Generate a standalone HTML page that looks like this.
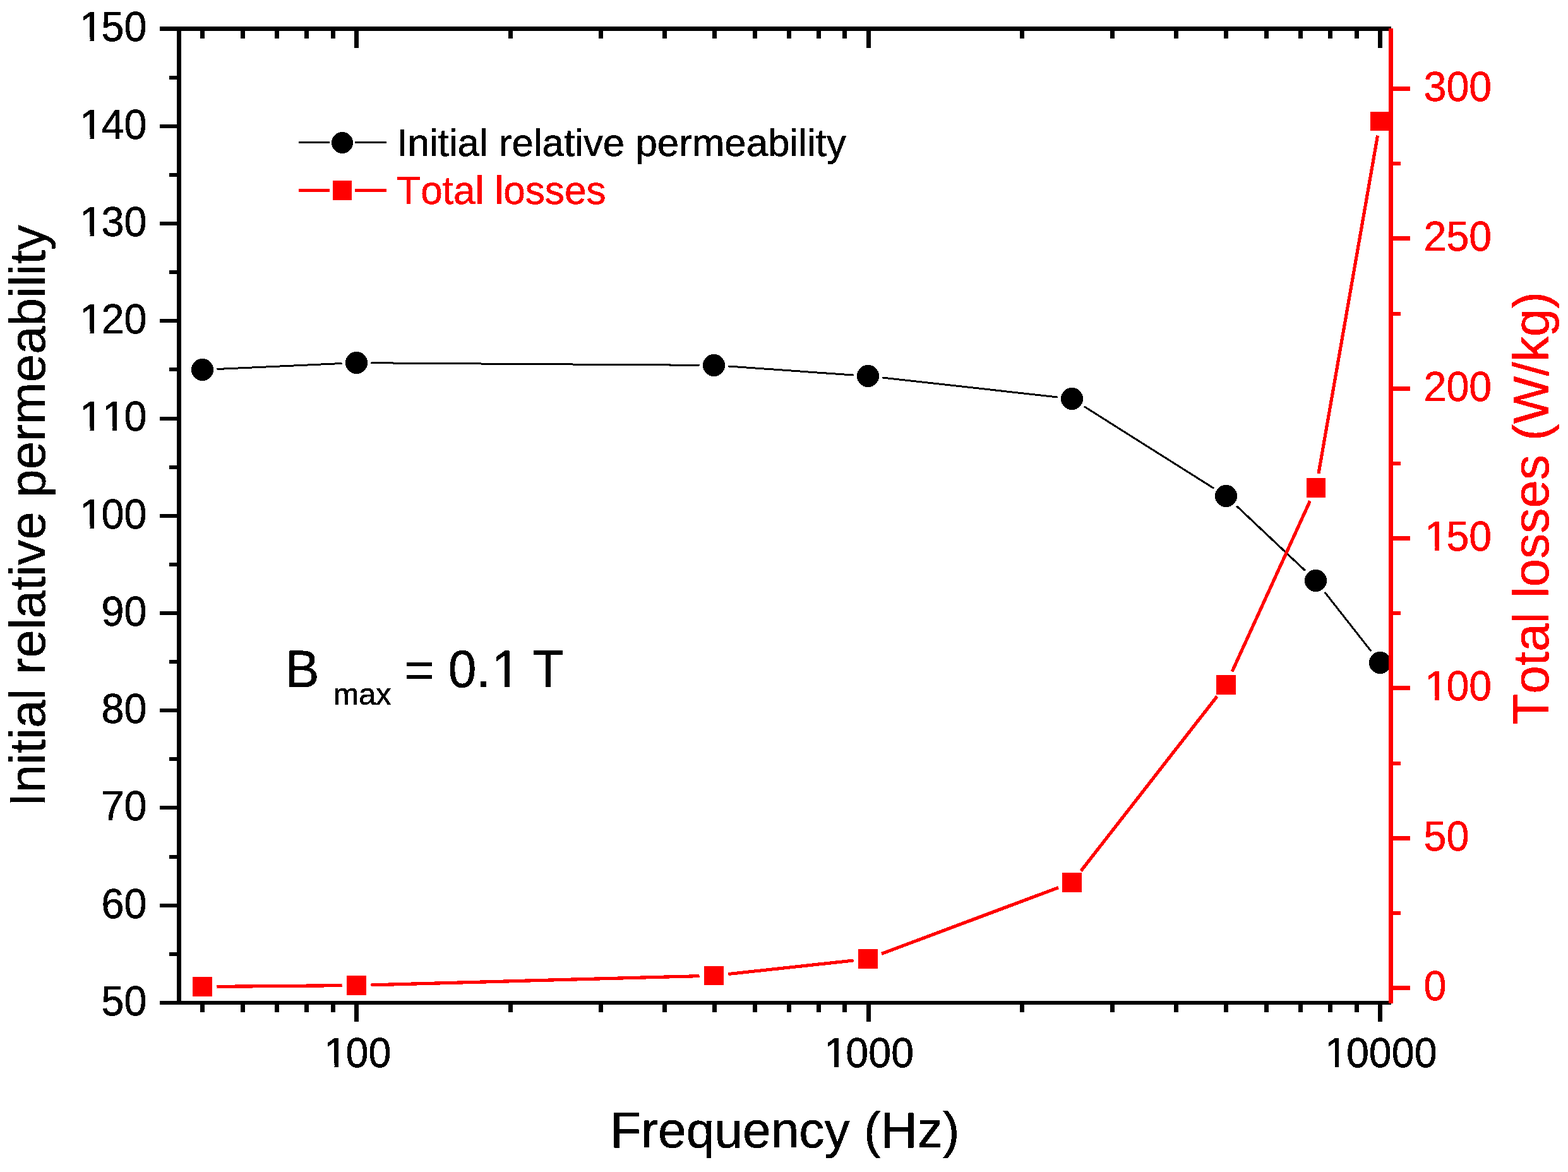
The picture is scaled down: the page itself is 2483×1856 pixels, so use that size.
<!DOCTYPE html>
<html lang="en">
<head>
<meta charset="utf-8">
<title>Initial relative permeability and total losses vs frequency</title>
<style>
html,body{margin:0;padding:0;background:#ffffff;}
body{width:2483px;height:1856px;overflow:hidden;}
svg{display:block;}
text{font-kerning:none;white-space:pre;stroke-width:0.6px;stroke-linejoin:round;}
</style>
</head>
<body>
<svg width="2483" height="1856" viewBox="0 0 2483 1856" font-family="'Liberation Sans', sans-serif" role="img" aria-label="Initial relative permeability and total losses versus frequency">
<defs>
<filter id="bin" filterUnits="userSpaceOnUse" x="0" y="0" width="2483" height="1856" color-interpolation-filters="sRGB"><feComponentTransfer><feFuncA type="discrete" tableValues="0 1"/></feComponentTransfer></filter>
<clipPath id="c1" clipPathUnits="userSpaceOnUse"><path clip-rule="evenodd" d="M-4000 -4000H4000V4000H-4000ZM5.11 -5.53V19.38H17.90V-5.53ZM24.21 -5.53V19.38H39.38V-5.53Z"/></clipPath>
<clipPath id="c2" clipPathUnits="userSpaceOnUse"><path clip-rule="evenodd" d="M-4000 -4000H4000V4000H-4000ZM5.11 -5.53V19.38H17.90V-5.53ZM24.21 -5.53V19.38H39.38V-5.53ZM41.04 -5.53V19.38H53.83V-5.53ZM60.14 -5.53V19.38H75.31V-5.53Z"/></clipPath>
<clipPath id="c3" clipPathUnits="userSpaceOnUse"><path clip-rule="evenodd" d="M-4000 -4000H4000V4000H-4000ZM331.02 -6.88V24.09H346.99V-6.88ZM354.69 -6.88V24.09H373.26V-6.88Z"/></clipPath>
</defs>
<rect x="0" y="0" width="2483" height="1856" fill="#ffffff"/>
<g id="layer-black" fill="#000000" filter="url(#bin)">
<g class="marks">
<line x1="343.48" y1="584.46" x2="541.52" y2="575.54" stroke="#000000" stroke-width="3"/>
<line x1="587.50" y1="574.66" x2="1107.50" y2="578.34" stroke="#000000" stroke-width="3"/>
<line x1="1153.44" y1="580.10" x2="1351.56" y2="593.90" stroke="#000000" stroke-width="3"/>
<line x1="1397.36" y1="598.05" x2="1674.64" y2="628.95" stroke="#000000" stroke-width="3"/>
<line x1="1716.95" y1="643.78" x2="1922.05" y2="773.22" stroke="#000000" stroke-width="3"/>
<line x1="1958.23" y1="801.29" x2="2066.77" y2="903.71" stroke="#000000" stroke-width="3"/>
<line x1="2097.70" y1="937.59" x2="2171.30" y2="1031.41" stroke="#000000" stroke-width="3"/>
<circle cx="320.5" cy="585.5" r="17.5"/>
<circle cx="564.5" cy="574.5" r="17.5"/>
<circle cx="1130.5" cy="578.5" r="17.5"/>
<circle cx="1374.5" cy="595.5" r="17.5"/>
<circle cx="1697.5" cy="631.5" r="17.5"/>
<circle cx="1941.5" cy="785.5" r="17.5"/>
<circle cx="2083.5" cy="919.5" r="17.5"/>
<circle cx="2185.5" cy="1049.5" r="17.5"/>
<circle cx="542" cy="226" r="17"/>
</g>
<g class="axes" shape-rendering="crispEdges">
<rect x="253" y="42" width="1950" height="7"/>
<rect x="253" y="1585" width="1950" height="6"/>
<rect x="280" y="42" width="7" height="1549"/>
<rect x="268" y="1508" width="12" height="6"/>
<rect x="253" y="1431" width="27" height="6"/>
<rect x="268" y="1354" width="12" height="6"/>
<rect x="253" y="1276" width="27" height="6"/>
<rect x="268" y="1199" width="12" height="6"/>
<rect x="253" y="1122" width="27" height="6"/>
<rect x="268" y="1045" width="12" height="6"/>
<rect x="253" y="968" width="27" height="6"/>
<rect x="268" y="891" width="12" height="6"/>
<rect x="253" y="814" width="27" height="6"/>
<rect x="268" y="737" width="12" height="6"/>
<rect x="253" y="660" width="27" height="6"/>
<rect x="268" y="582" width="12" height="6"/>
<rect x="253" y="505" width="27" height="6"/>
<rect x="268" y="428" width="12" height="6"/>
<rect x="253" y="351" width="27" height="6"/>
<rect x="268" y="274" width="12" height="6"/>
<rect x="253" y="197" width="27" height="6"/>
<rect x="268" y="120" width="12" height="6"/>
<rect x="561" y="1591" width="7" height="27"/>
<rect x="561" y="49" width="7" height="27"/>
<rect x="1372" y="1591" width="7" height="27"/>
<rect x="1372" y="49" width="7" height="27"/>
<rect x="2182" y="1591" width="7" height="27"/>
<rect x="2182" y="49" width="7" height="27"/>
<rect x="317" y="1591" width="7" height="12"/>
<rect x="317" y="49" width="7" height="12"/>
<rect x="381" y="1591" width="7" height="12"/>
<rect x="381" y="49" width="7" height="12"/>
<rect x="435" y="1591" width="7" height="12"/>
<rect x="435" y="49" width="7" height="12"/>
<rect x="482" y="1591" width="7" height="12"/>
<rect x="482" y="49" width="7" height="12"/>
<rect x="524" y="1591" width="7" height="12"/>
<rect x="524" y="49" width="7" height="12"/>
<rect x="805" y="1591" width="7" height="12"/>
<rect x="805" y="49" width="7" height="12"/>
<rect x="948" y="1591" width="7" height="12"/>
<rect x="948" y="49" width="7" height="12"/>
<rect x="1049" y="1591" width="7" height="12"/>
<rect x="1049" y="49" width="7" height="12"/>
<rect x="1128" y="1591" width="7" height="12"/>
<rect x="1128" y="49" width="7" height="12"/>
<rect x="1192" y="1591" width="7" height="12"/>
<rect x="1192" y="49" width="7" height="12"/>
<rect x="1246" y="1591" width="7" height="12"/>
<rect x="1246" y="49" width="7" height="12"/>
<rect x="1293" y="1591" width="7" height="12"/>
<rect x="1293" y="49" width="7" height="12"/>
<rect x="1334" y="1591" width="7" height="12"/>
<rect x="1334" y="49" width="7" height="12"/>
<rect x="1615" y="1591" width="7" height="12"/>
<rect x="1615" y="49" width="7" height="12"/>
<rect x="1758" y="1591" width="7" height="12"/>
<rect x="1758" y="49" width="7" height="12"/>
<rect x="1859" y="1591" width="7" height="12"/>
<rect x="1859" y="49" width="7" height="12"/>
<rect x="1938" y="1591" width="7" height="12"/>
<rect x="1938" y="49" width="7" height="12"/>
<rect x="2002" y="1591" width="7" height="12"/>
<rect x="2002" y="49" width="7" height="12"/>
<rect x="2056" y="1591" width="7" height="12"/>
<rect x="2056" y="49" width="7" height="12"/>
<rect x="2103" y="1591" width="7" height="12"/>
<rect x="2103" y="49" width="7" height="12"/>
<rect x="2145" y="1591" width="7" height="12"/>
<rect x="2145" y="49" width="7" height="12"/>
<rect x="473" y="224" width="49" height="3"/>
<rect x="562" y="224" width="50" height="3"/>
</g>
<g class="labels" stroke="#000000">
<text transform="translate(160.55 1607.80) scale(1 1.0450)" font-size="64.6">50</text>
<text transform="translate(160.55 1453.80) scale(1 1.0450)" font-size="64.6">60</text>
<text transform="translate(160.55 1298.80) scale(1 1.0450)" font-size="64.6">70</text>
<text transform="translate(160.55 1144.80) scale(1 1.0450)" font-size="64.6">80</text>
<text transform="translate(160.55 990.80) scale(1 1.0450)" font-size="64.6">90</text>
<text transform="translate(124.62 836.80) scale(1 1.0450)" font-size="64.6" dx="1.96 -1.96" clip-path="url(#c1)">100</text>
<text transform="translate(124.62 681.80) scale(1 1.0450)" font-size="64.6" dx="1.96 0.00 -1.96" clip-path="url(#c2)">110</text>
<text transform="translate(124.62 527.80) scale(1 1.0450)" font-size="64.6" dx="1.96 -1.96" clip-path="url(#c1)">120</text>
<text transform="translate(124.62 373.80) scale(1 1.0450)" font-size="64.6" dx="1.96 -1.96" clip-path="url(#c1)">130</text>
<text transform="translate(124.62 219.80) scale(1 1.0450)" font-size="64.6" dx="1.96 -1.96" clip-path="url(#c1)">140</text>
<text transform="translate(124.62 64.80) scale(1 1.0450)" font-size="64.6" dx="1.96 -1.96" clip-path="url(#c1)">150</text>
<text transform="translate(511.61 1689.80) scale(1 1.0450)" font-size="64.6" dx="1.96 -1.96" clip-path="url(#c1)">100</text>
<text transform="translate(1303.45 1689.80) scale(1 1.0450)" font-size="64.6" dx="1.96 -1.96" clip-path="url(#c1)">1000</text>
<text transform="translate(2095.98 1689.80) scale(1 1.0450)" font-size="64.6" dx="1.96 -1.96" clip-path="url(#c1)">10000</text>
<text transform="translate(966.30 1817.30)" font-size="80.3">Frequency (Hz)</text>
<text transform="translate(71.00 1277.60) rotate(-90)" font-size="80.1">Initial relative permeability</text>
<text transform="translate(452.00 1087.70)" font-size="80.3" clip-path="url(#c3)"><tspan font-size="82.71" textLength="75.87" lengthAdjust="spacingAndGlyphs">B </tspan><tspan font-size="48.6" dx="-0.20" dy="28.30">max</tspan><tspan dx="-1.30" dy="-28.30"> = </tspan><tspan font-size="82.71" textLength="182.99" lengthAdjust="spacingAndGlyphs" dx="0.00 0.00 2.43 -2.43">0.1 T</tspan></text>
<text transform="translate(628.30 246.80)" font-size="61.85">Initial relative permeability</text>
</g>
</g>
<g id="layer-red" fill="#ff0000" filter="url(#bin)">
<g class="marks">
<line x1="343.50" y1="1562.31" x2="541.50" y2="1560.69" stroke="#ff0000" stroke-width="5.2"/>
<line x1="587.49" y1="1559.87" x2="1107.51" y2="1545.63" stroke="#ff0000" stroke-width="5.2"/>
<line x1="1153.37" y1="1542.52" x2="1351.63" y2="1520.98" stroke="#ff0000" stroke-width="5.2"/>
<line x1="1396.04" y1="1510.43" x2="1675.96" y2="1405.57" stroke="#ff0000" stroke-width="5.2"/>
<line x1="1711.64" y1="1379.36" x2="1927.36" y2="1102.64" stroke="#ff0000" stroke-width="5.2"/>
<line x1="1951.06" y1="1063.58" x2="2074.44" y2="793.42" stroke="#ff0000" stroke-width="5.2"/>
<line x1="2087.96" y1="749.84" x2="2181.54" y2="214.66" stroke="#ff0000" stroke-width="5.2"/>
</g>
<g class="axes" shape-rendering="crispEdges">
<rect x="305" y="1547" width="31" height="31"/>
<rect x="549" y="1545" width="31" height="31"/>
<rect x="1115" y="1530" width="31" height="30"/>
<rect x="1359" y="1503" width="31" height="31"/>
<rect x="1682" y="1382" width="31" height="31"/>
<rect x="1926" y="1069" width="31" height="31"/>
<rect x="2069" y="757" width="30" height="31"/>
<rect x="2170" y="177" width="31" height="30"/>
<rect x="2199" y="45" width="7" height="1544"/>
<rect x="2206" y="1561" width="27" height="7"/>
<rect x="2206" y="1443" width="12" height="6"/>
<rect x="2206" y="1324" width="27" height="7"/>
<rect x="2206" y="1206" width="12" height="6"/>
<rect x="2206" y="1086" width="27" height="7"/>
<rect x="2206" y="968" width="12" height="6"/>
<rect x="2206" y="849" width="27" height="7"/>
<rect x="2206" y="731" width="12" height="6"/>
<rect x="2206" y="612" width="27" height="7"/>
<rect x="2206" y="494" width="12" height="6"/>
<rect x="2206" y="374" width="27" height="7"/>
<rect x="2206" y="256" width="12" height="6"/>
<rect x="2206" y="137" width="27" height="7"/>
<rect x="473" y="299" width="49" height="5"/>
<rect x="562" y="299" width="50" height="5"/>
<rect x="527" y="286" width="30" height="31"/>
</g>
<g class="labels" stroke="#ff0000">
<text transform="translate(2254.50 1583.80) scale(1 1.0450)" font-size="64.6">0</text>
<text transform="translate(2254.50 1346.80) scale(1 1.0450)" font-size="64.6">50</text>
<text transform="translate(2254.50 1108.80) scale(1 1.0450)" font-size="64.6" dx="1.96 -1.96" clip-path="url(#c1)">100</text>
<text transform="translate(2254.50 871.80) scale(1 1.0450)" font-size="64.6" dx="1.96 -1.96" clip-path="url(#c1)">150</text>
<text transform="translate(2254.50 634.80) scale(1 1.0450)" font-size="64.6">200</text>
<text transform="translate(2254.50 396.80) scale(1 1.0450)" font-size="64.6">250</text>
<text transform="translate(2254.50 159.80) scale(1 1.0450)" font-size="64.6">300</text>
<text transform="translate(2451.70 1147.60) rotate(-90)" font-size="80.15">Total losses (W/kg)</text>
<text transform="translate(628.20 322.80)" font-size="62.1">Total losses</text>
</g>
</g>
</svg>
</body>
</html>
